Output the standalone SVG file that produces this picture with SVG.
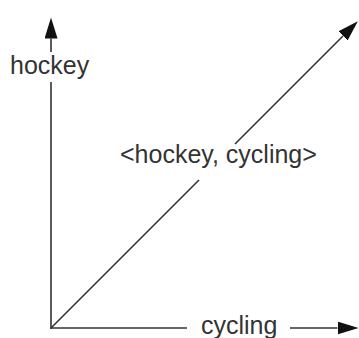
<svg xmlns="http://www.w3.org/2000/svg" width="359" height="338" viewBox="0 0 359 338">
<style>
.ax{stroke:#333;stroke-width:1.6;fill:none}
.lbl{font-family:"Liberation Sans",Arial,sans-serif;font-size:25px;fill:#333}
</style>
<defs>
<marker id="ah" markerUnits="userSpaceOnUse" markerWidth="22" markerHeight="14" refX="0" refY="6.5" orient="auto" viewBox="0 0 22 14">
<path d="M0,0 L21,6.5 L0,13 z" fill="#111"/>
</marker>
</defs>
<rect width="359" height="338" fill="#fff"/>
<g id="connectors">
<line class="ax" x1="51" y1="329" x2="51" y2="82"/>
<line class="ax" x1="51" y1="52" x2="51" y2="38.5" marker-end="url(#ah)"/>
<line class="ax" x1="50.5" y1="328" x2="187" y2="328"/>
<line class="ax" x1="290" y1="328" x2="337.5" y2="328" marker-end="url(#ah)"/>
<line class="ax" x1="51" y1="328" x2="199" y2="180"/>
<line class="ax" x1="235" y1="144" x2="343" y2="36" marker-end="url(#ah)"/>
</g>
<g id="hockey"><text class="lbl" x="10" y="74">hockey</text></g>
<g id="cycling"><text class="lbl" x="201" y="334">cycling</text></g>
<g id="vector"><text class="lbl" x="120" y="163">&lt;hockey, cycling&gt;</text></g>
</svg>
